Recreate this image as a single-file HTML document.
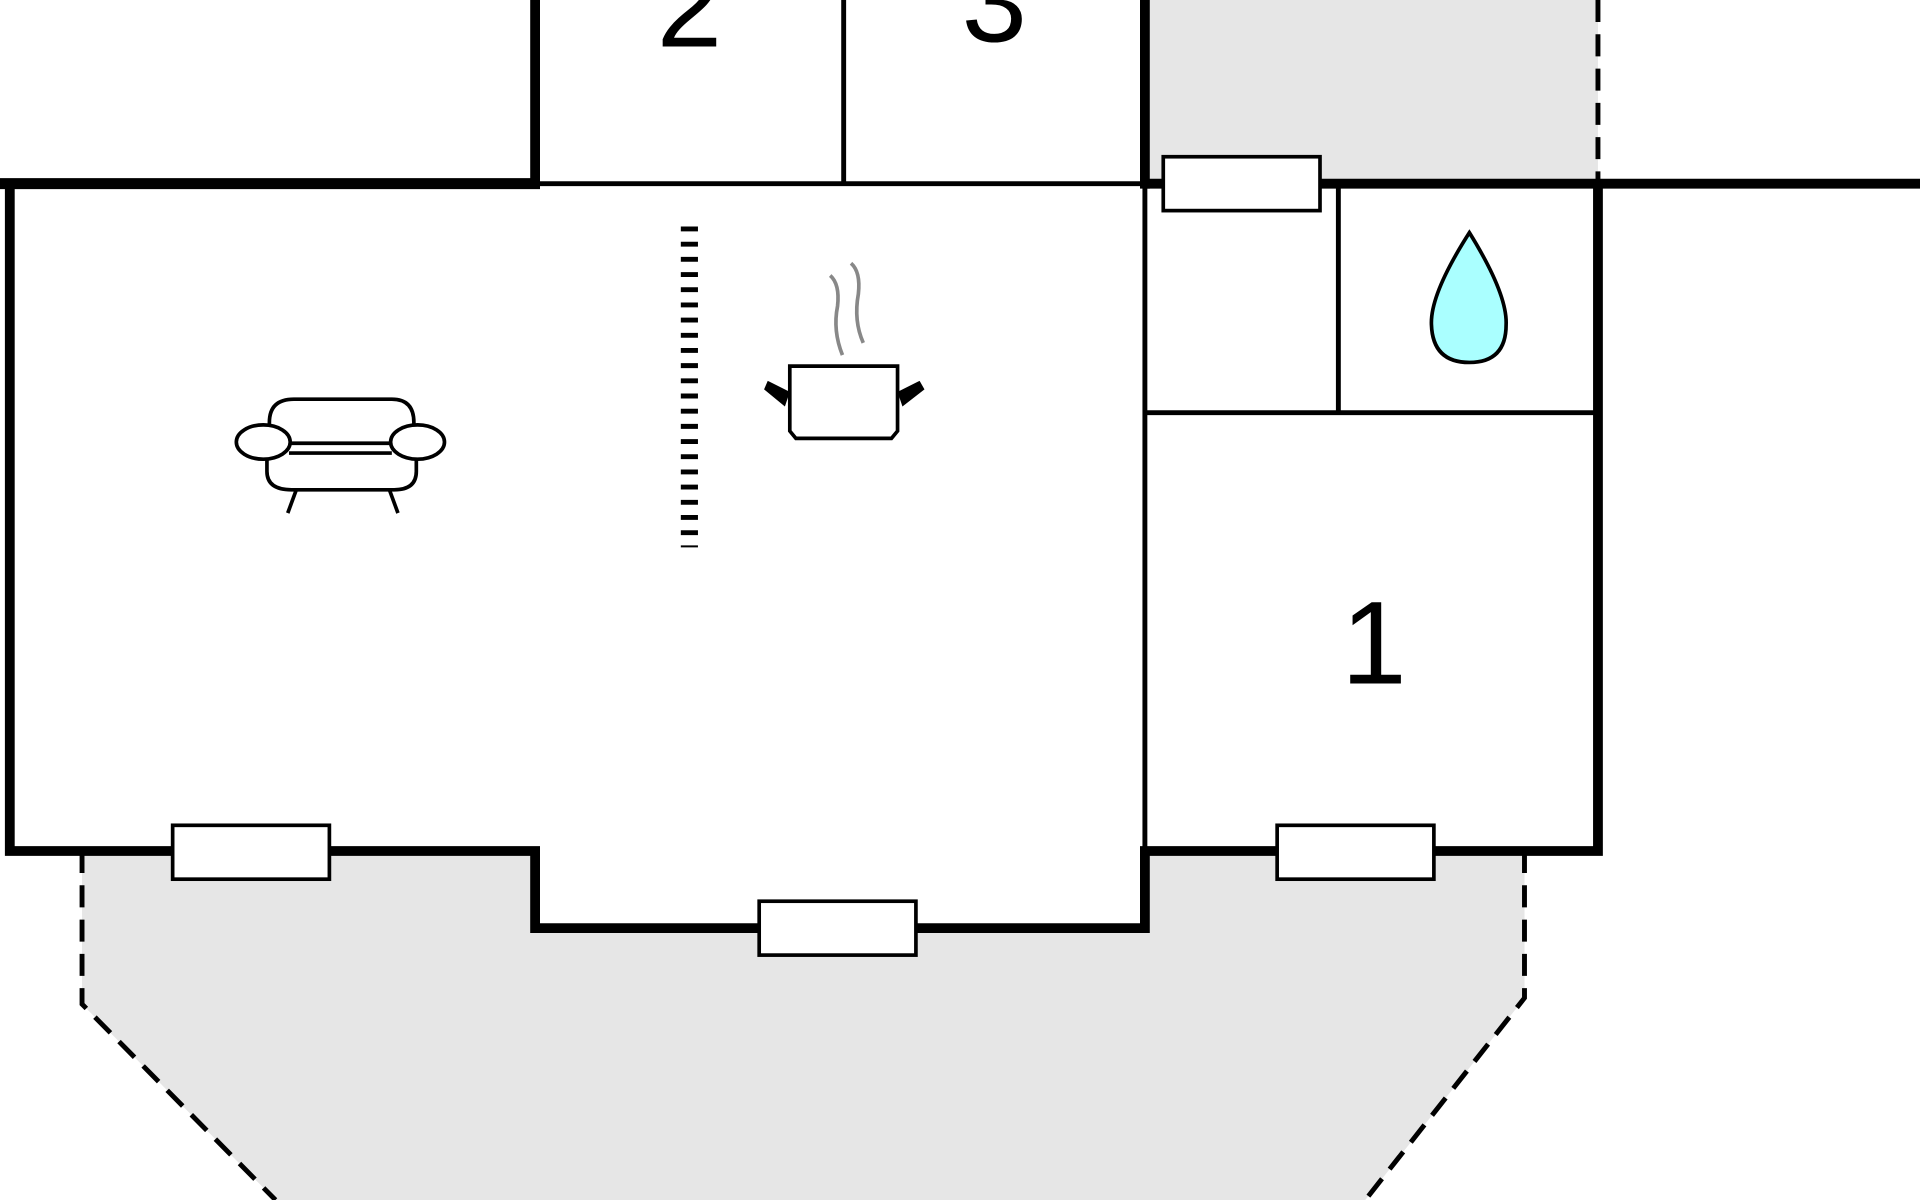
<!DOCTYPE html>
<html><head><meta charset="utf-8"><style>html,body{margin:0;padding:0;background:#fff}svg{display:block}</style></head><body>
<svg width="1920" height="1200" viewBox="0 0 1568 980" xmlns="http://www.w3.org/2000/svg">
<rect width="1568" height="980" fill="#fff"/>
<rect x="937" y="0" width="368" height="150" fill="#e6e6e6"/>
<line x1="1305" y1="0" x2="1305" y2="150" stroke="#000" stroke-width="4" stroke-dasharray="18,10"/>
<polygon points="67,695 67,820 225,980 1115,980 1245,815 1245,695" fill="#e6e6e6"/>
<polyline points="67,695 67,820 225,980" fill="none" stroke="#000" stroke-width="4" stroke-dasharray="18,10"/>
<polyline points="1245,695 1245,815 1115,980" fill="none" stroke="#000" stroke-width="4" stroke-dasharray="18,10"/>
<polygon points="8,150 935,150 1305,150 1305,695 935,695 935,758 437,758 437,695 8,695" fill="#fff"/>
<g stroke="#000" fill="none">
<line x1="0" y1="150" x2="441" y2="150" stroke-width="9"/>
<line x1="437" y1="0" x2="437" y2="154" stroke-width="8"/>
<line x1="437" y1="150" x2="935" y2="150" stroke-width="4"/>
<line x1="689" y1="0" x2="689" y2="150" stroke-width="4"/>
<line x1="935" y1="0" x2="935" y2="154" stroke-width="8"/>
<line x1="935" y1="150" x2="1568" y2="150" stroke-width="8"/>
<polyline points="8,150 8,695 437,695 437,758 935,758 935,695 1305,695 1305,150" stroke-width="8"/>
<line x1="935" y1="150" x2="935" y2="695" stroke-width="4"/>
<line x1="1093" y1="150" x2="1093" y2="337" stroke-width="4"/>
<line x1="935" y1="337" x2="1305" y2="337" stroke-width="4"/>
<line x1="563" y1="185" x2="563" y2="447" stroke-width="14" stroke-dasharray="4,8.4"/>
</g>
<g fill="#fff" stroke="#000" stroke-width="3">
<rect x="950" y="128" width="128" height="44"/>
<rect x="141" y="674" width="128" height="44"/>
<rect x="620" y="736" width="128" height="44"/>
<rect x="1043" y="674" width="128" height="44"/>
</g>
<g font-family="Liberation Sans, sans-serif" font-size="96" fill="#000" text-anchor="middle">
<text x="563" y="38">2</text>
<text x="812" y="34">3</text>
<text x="1122" y="558">1</text>
</g>
<!-- sofa -->
<g fill="#fff" stroke="#000" stroke-width="3">
<path d="M220,370 L220,345 Q220,326 240,326 L320,326 Q338,326 338,345 L338,370 Z"/>
<path d="M218,362 L218,385 Q218,400 238,400 L322,400 Q340,400 340,385 L340,362 Z"/>
<ellipse cx="215" cy="361" rx="22" ry="14"/>
<ellipse cx="341" cy="361" rx="22" ry="14"/>
<line x1="236" y1="370" x2="320" y2="370"/>
<line x1="242" y1="400" x2="235" y2="419"/>
<line x1="318" y1="400" x2="325" y2="419"/>
</g>
<!-- pot -->
<g stroke="#888" stroke-width="3" fill="none">
<path d="M678,225 Q686,232 684,250 Q680,270 688,290"/>
<path d="M695,215 Q703,222 701,240 Q697,262 705,280"/>
</g>
<path d="M645,299 L733,299 L733,352 L728,358 L650,358 L645,352 Z" fill="#fff" stroke="#000" stroke-width="3"/>
<path d="M645,320 L627,311 L624,318 L641,332 Z M733,320 L751,311 L755,318 L737,332 Z" fill="#000"/>
<!-- drop -->
<path d="M1200,190 Q1168,240 1169,265 Q1170,296 1200,296 Q1230,296 1230,265 Q1231,240 1200,190 Z" fill="#aaffff" stroke="#000" stroke-width="3"/>
</svg>
</body></html>
